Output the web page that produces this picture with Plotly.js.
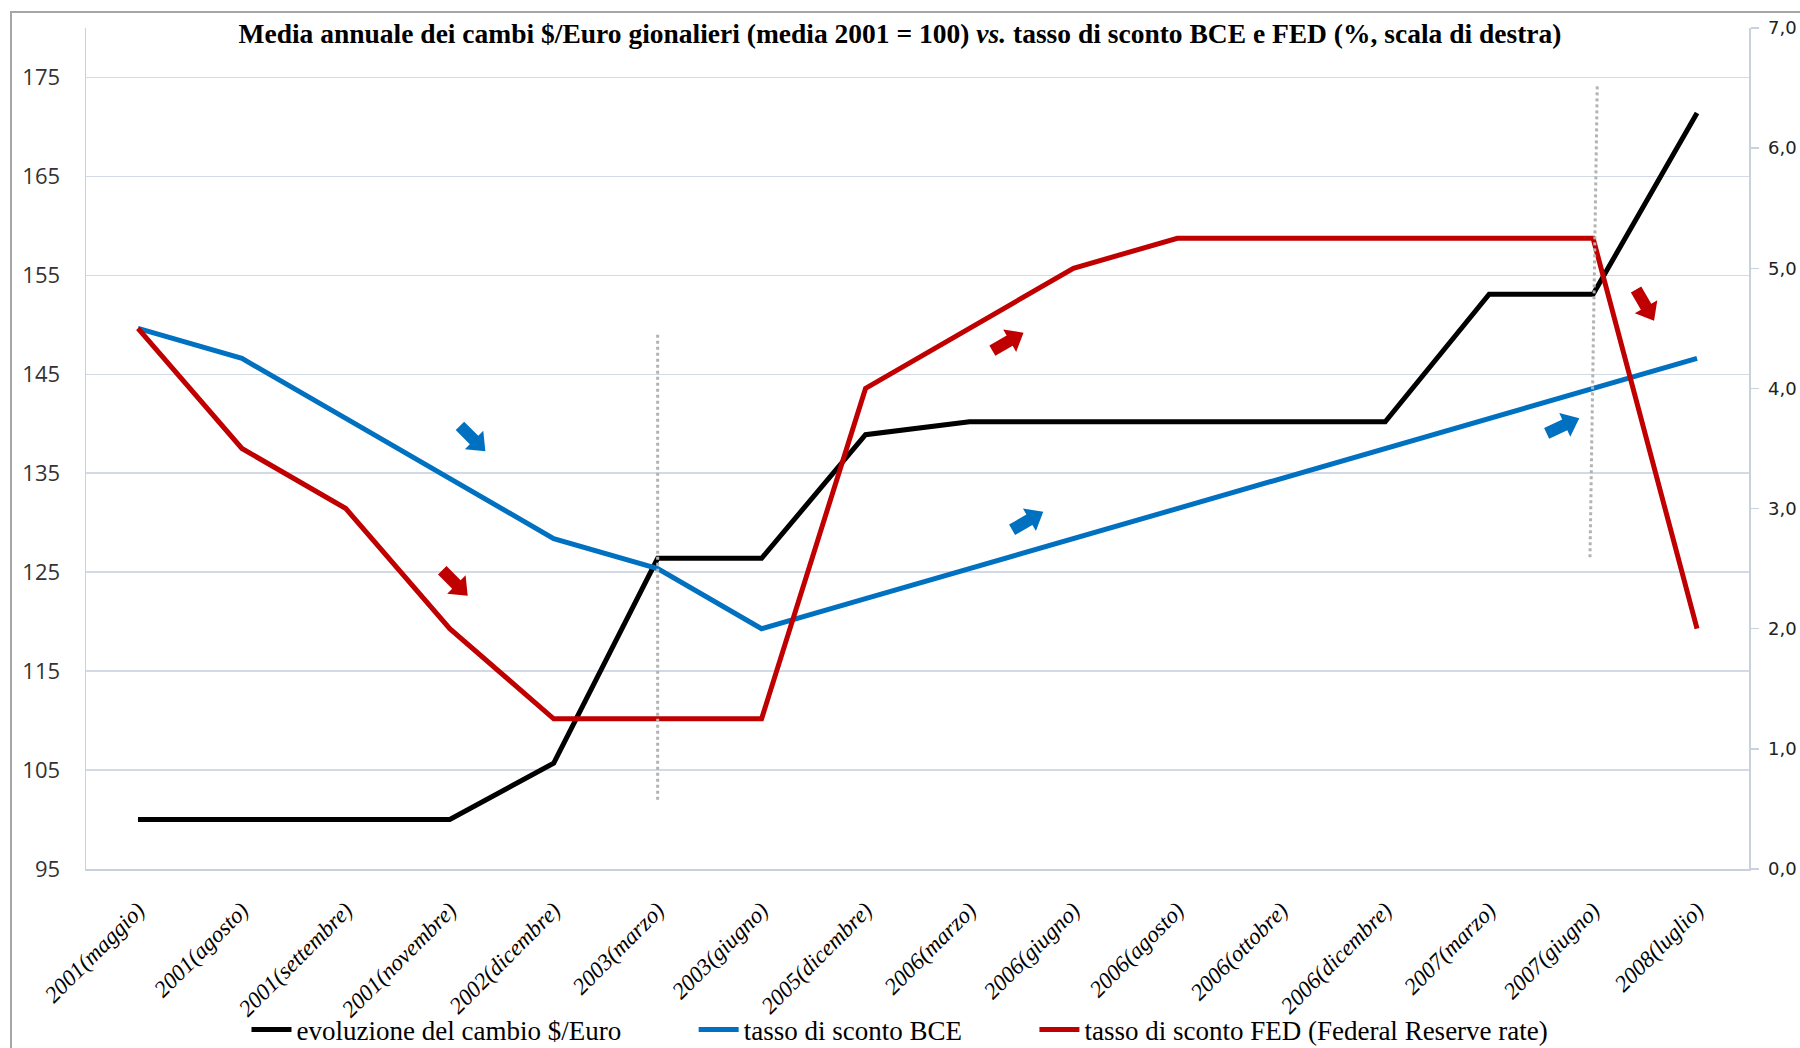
<!DOCTYPE html>
<html>
<head>
<meta charset="utf-8">
<script src="https://cdn.plot.ly/plotly-3.0.1.min.js"></script>
<style>
  html, body { margin: 0; padding: 0; background: #fff; }
  #chart { width: 1800px; height: 1048px; }
</style>
</head>
<body>
<div id="chart"></div>
<script>
// ---- Data ----
var categories = [
  "2001(maggio)", "2001(agosto)", "2001(settembre)", "2001(novembre)",
  "2002(dicembre)", "2003(marzo)", "2003(giugno)", "2005(dicembre)",
  "2006(marzo)", "2006(giugno)", "2006(agosto)", "2006(ottobre)",
  "2006(dicembre)", "2007(marzo)", "2007(giugno)", "2008(luglio)"
];
// exchange rate index (left axis, 2001 = 100)
var cambioEuro = [100, 100, 100, 100, 105.7, 126.4, 126.4, 138.9,
                  140.2, 140.2, 140.2, 140.2, 140.2, 153.1, 153.1, 171.4];
// ECB rate (% right axis)
var tassoBCE = [4.5, 4.25, 3.75, 3.25, 2.75, 2.5, 2.0, 2.25,
                2.5, 2.75, 3.0, 3.25, 3.5, 3.75, 4.0, 4.25];
// FED rate (% right axis)
var tassoFED = [4.5, 3.5, 3.0, 2.0, 1.25, 1.25, 1.25, 4.0,
                4.5, 5.0, 5.25, 5.25, 5.25, 5.25, 5.25, 2.0];

var seriesNames = [
  "evoluzione del cambio $/Euro",
  "tasso di sconto BCE",
  "tasso di sconto FED (Federal Reserve rate)"
];
var leftTicks = [95, 105, 115, 125, 135, 145, 155, 165, 175];
var rightTicks = [0, 1, 2, 3, 4, 5, 6, 7];

// decorative block arrows: [category index, left-axis value, angle deg, colour]
var arrowMarks = [
  [3.22, 138.5, -45, "#0070C0"],
  [3.05, 123.9, -45, "#C00000"],
  [8.37, 148.3, 30, "#C00000"],
  [8.56, 130.2, 30, "#0070C0"],
  [13.71, 139.8, 25, "#0070C0"],
  [14.50, 152.0, -60, "#C00000"]
];
// dotted vertical markers: [x0, y0, x1, y1] in category index / left-axis value
var dottedMarks = [
  [5.0, 102.0, 5.0, 149.1],
  [13.97, 126.5, 14.04, 174.1]
];

function arrowPath(angleDeg) {
  var pts = [[-18, -6], [2, -6], [2, -13], [18, 0], [2, 13], [2, 6], [-18, 6]];
  var a = angleDeg * Math.PI / 180, c = Math.cos(a), s = Math.sin(a);
  var out = pts.map(function (p, i) {
    var x = p[0] * c - p[1] * s, y = p[0] * s + p[1] * c;
    return (i === 0 ? "M" : "L") + x.toFixed(2) + "," + y.toFixed(2);
  });
  return out.join(" ") + " Z";
}

var pad = "\u00a0\u00a0\u00a0\u00a0\u00a0\u00a0\u00a0\u00a0\u00a0\u00a0";
var traces = [
  { x: categories, y: cambioEuro, name: seriesNames[0] + pad, type: "scatter", mode: "lines",
    line: { color: "#000000", width: 5 }, yaxis: "y" },
  { x: categories, y: tassoBCE, name: seriesNames[1] + pad, type: "scatter", mode: "lines",
    line: { color: "#0070C0", width: 5 }, yaxis: "y2" },
  { x: categories, y: tassoFED, name: seriesNames[2], type: "scatter", mode: "lines",
    line: { color: "#C00000", width: 5 }, yaxis: "y2" }
];

var shapes = [];
// outer chart frame
shapes.push({ type: "rect", xref: "paper", yref: "paper",
  x0: -0.0451, x1: 1.2, y0: -0.4, y1: 1.0190,
  line: { color: "#a6a6a6", width: 2 }, fillcolor: "rgba(0,0,0,0)", layer: "below" });
dottedMarks.forEach(function (d) {
  shapes.push({ type: "line", xref: "x", yref: "y", x0: d[0], y0: d[1], x1: d[2], y1: d[3],
    line: { color: "#b3b3b3", width: 3, dash: "dot" } });
});
arrowMarks.forEach(function (m) {
  shapes.push({ type: "path", xref: "x", yref: "y", xsizemode: "pixel", ysizemode: "pixel",
    xanchor: m[0], yanchor: m[1], path: arrowPath(m[2]),
    fillcolor: m[3], line: { width: 0 } });
});

var layout = {
  width: 1800, height: 1048,
  margin: { l: 86, r: 51, t: 28, b: 179, autoexpand: false },
  paper_bgcolor: "#ffffff", plot_bgcolor: "#ffffff",
  separators: ",.",
  showlegend: true,
  title: {
    text: "Media annuale dei cambi $/Euro gionalieri (media 2001 = 100) <i>vs.</i> tasso di sconto BCE e FED (%, scala di destra)",
    font: { family: "Liberation Serif", size: 27.5, color: "#000", weight: "bold" },
    x: 0.5, xanchor: "center", xref: "container",
    y: 1 - 33 / 1048, yanchor: "middle", yref: "container"
  },
  xaxis: {
    type: "category", range: [-0.5, 15.5],
    showgrid: false, zeroline: false,
    showline: true, linecolor: "#c9d1df", linewidth: 1.5,
    ticks: "", tickangle: -45,
    ticklabelstandoff: 17,
    tickfont: { family: "Liberation Serif", size: 23, color: "#000", style: "italic" }
  },
  yaxis: {
    range: [95, 180], tickvals: leftTicks,
    showgrid: true, gridcolor: "#d3dae6", gridwidth: 1.5,
    zeroline: false, showline: true, linecolor: "#c9d1df", linewidth: 1.5,
    ticks: "", ticklabelstandoff: 20,
    tickfont: { family: "Open Sans", size: 22, color: "#333" }
  },
  yaxis2: {
    overlaying: "y", side: "right", range: [0, 7], tickvals: rightTicks,
    tickformat: ".1f",
    showgrid: false, zeroline: false,
    showline: true, linecolor: "#c9d1df", linewidth: 1.5,
    ticks: "outside", ticklen: 8, tickcolor: "#c9d1df", tickwidth: 1.5,
    ticklabelstandoff: 6,
    tickfont: { family: "DejaVu Sans", size: 18, color: "#222" }
  },
  legend: {
    orientation: "h", x: 0.5, xanchor: "center", xref: "container",
    y: 1 - 1030 / 1048, yanchor: "middle", yref: "container",
    font: { family: "Liberation Serif", size: 27, color: "#000" },
    bgcolor: "rgba(0,0,0,0)", itemwidth: 40
  },
  shapes: shapes
};

Plotly.newPlot("chart", traces, layout, { displayModeBar: false, staticPlot: true });
</script>
</body>
</html>
